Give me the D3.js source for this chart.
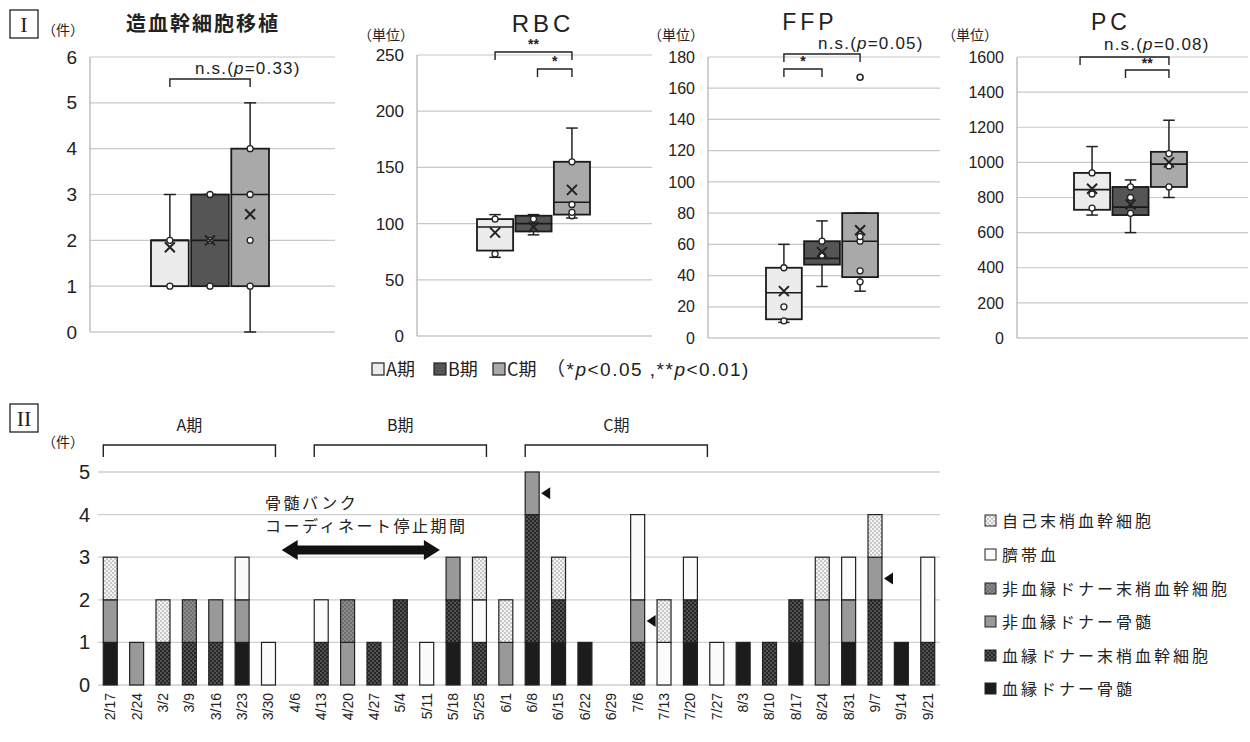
<!DOCTYPE html>
<html>
<head>
<meta charset="utf-8">
<script src="https://cdn.jsdelivr.net/npm/d3@7"></script>
<style>
  body { margin: 0; background: #fff; }
  text { font-family: "Liberation Sans", "Noto Sans CJK JP", sans-serif; fill: #222; }
  .jp { font-family: "Noto Sans CJK JP", sans-serif; }
</style>
</head>
<body>
<div id="chart"></div>
<script>
// ---- data ----
const periods = ["A期", "B期", "C期"];
const periodFill = ["#ececec", "#555555", "#a9a9a9"];

// box summaries: [min, q1, median, q3, max, mean]
const hsctBox = [[1, 1, 2, 2, 3, 1.85], [1, 1, 2, 3, 3, 2.0], [0, 1, 3, 4, 5, 2.57]];
const hsctPts = [[1, 2], [1, 2, 3], [1, 2, 3, 4]];
const rbcBox = [[70, 76, 97, 104, 108, 92], [90, 93, 100, 107, 108, 97], [105, 108, 119, 155, 185, 130]];
const rbcPts = [[73, 104], [104], [107, 110, 117, 155]];
const ffpBox = [[10, 12, 29, 45, 60, 30], [33, 47, 51, 62, 75, 55], [30, 39, 62, 80, 80, 69]];
const ffpPts = [[11, 20, 45], [62, 53], [36, 43, 62, 65]];
const ffpOutlier = [null, null, 167];
const pcBox = [[700, 730, 845, 940, 1090, 850], [600, 700, 745, 860, 900, 760], [800, 860, 990, 1060, 1240, 1000]];
const pcPts = [[740, 820, 940], [710, 800, 860], [860, 980, 1050]];

const dates = ["2/17","2/24","3/2","3/9","3/16","3/23","3/30","4/6","4/13","4/20","4/27","5/4","5/11","5/18","5/25","6/1",
  "6/8","6/15","6/22","6/29","7/6","7/13","7/20","7/27","8/3","8/10","8/17","8/24","8/31","9/7","9/14","9/21"];
const sources = ["血縁ドナー骨髄", "血縁ドナー末梢血幹細胞", "非血縁ドナー骨髄", "非血縁ドナー末梢血幹細胞", "臍帯血", "自己末梢血幹細胞"];
const relBM   = [1,0,0,0,0,1,0,0,0,0,0,0,0,1,0,0, 1,1,1,0,0,0,1,0,1,0,1,0,1,0,1,0];
const relPB   = [0,0,1,1,1,0,0,0,1,0,1,2,0,1,1,0, 3,1,0,0,1,0,1,0,0,1,1,0,0,2,0,1];
const unrelBM = [1,1,0,0,1,1,0,0,0,1,0,0,0,1,0,1, 1,0,0,0,1,0,0,0,0,0,0,2,1,1,0,0];
const unrelPB = [0,0,0,1,0,0,0,0,0,1,0,0,0,0,0,0, 0,0,0,0,0,0,0,0,0,0,0,0,0,0,0,0];
const cord    = [0,0,0,0,0,1,1,0,1,0,0,0,1,0,1,0, 0,0,0,0,2,1,1,1,0,0,0,0,1,0,0,2];
const autoPB  = [1,0,1,0,0,0,0,0,0,0,0,0,0,0,1,1, 0,1,0,0,0,1,0,0,0,0,0,1,0,1,0,0];
const markDates = ["6/8", "7/6", "9/7"];
const markValues = [4.5, 1.5, 2.5];
const phaseNames = ["A期", "B期", "C期"];
const phaseStart = ["2/17", "4/13", "6/8"];
const phaseEnd = ["3/30", "5/25", "7/20"];

// ---- svg ----
const svg = d3.select("#chart").append("svg")
  .attr("width", 1250).attr("height", 742);

const defs = svg.append("defs");
function dotPattern(id, bg, dot, size, r) {
  const p = defs.append("pattern").attr("id", id).attr("patternUnits", "userSpaceOnUse")
    .attr("width", size).attr("height", size);
  p.append("rect").attr("width", size).attr("height", size).attr("fill", bg);
  p.append("circle").attr("cx", size / 4).attr("cy", size / 4).attr("r", r).attr("fill", dot);
  p.append("circle").attr("cx", size * 3 / 4).attr("cy", size * 3 / 4).attr("r", r).attr("fill", dot);
}
dotPattern("pRelPB", "#262626", "#8a8a8a", 4, 0.8);
dotPattern("pUnrelPB", "#8c8c8c", "#4a4a4a", 4, 0.8);
dotPattern("pAuto", "#f4f4f4", "#8f8f8f", 4, 0.8);
const sourceFill = ["#1c1c1c", "url(#pRelPB)", "#999999", "url(#pUnrelPB)", "#fbfbfb", "url(#pAuto)"];

// roman numeral boxes
function romanBox(x, y, label) {
  svg.append("rect").attr("x", x).attr("y", y).attr("width", 28).attr("height", 28)
    .attr("fill", "none").attr("stroke", "#222").attr("stroke-width", 1.3);
  svg.append("text").attr("x", x + 14).attr("y", y + 22).attr("text-anchor", "middle")
    .style("font-family", "Liberation Serif, serif").style("font-size", "22px").text(label);
}
romanBox(10, 10, "I");
romanBox(10, 404, "II");

// ---- panel I : box plots ----
function boxChart(cfg, box, pts, outliers) {
  const g = svg.append("g");
  const y = d3.scaleLinear().domain([0, cfg.max]).range([cfg.bottom, cfg.top]);
  const x = d3.scaleBand().domain(periods).range([cfg.x0, cfg.x1]).paddingInner(0.06);
  const ticks = d3.range(0, cfg.max + cfg.step / 2, cfg.step);

  g.selectAll(".grid").data(ticks.slice(1)).join("line")
    .attr("x1", cfg.axisX).attr("x2", cfg.right)
    .attr("y1", d => y(d)).attr("y2", d => y(d))
    .attr("stroke", "#c8c8c8").attr("stroke-width", 1.2);
  g.append("line").attr("x1", cfg.axisX).attr("x2", cfg.right)
    .attr("y1", y(0)).attr("y2", y(0)).attr("stroke", "#b0b0b0").attr("stroke-width", 1.2);
  g.append("line").attr("x1", cfg.axisX).attr("x2", cfg.axisX)
    .attr("y1", y(0)).attr("y2", y(cfg.max)).attr("stroke", "#b0b0b0").attr("stroke-width", 1.2);

  const yAxis = g.append("g").attr("transform", `translate(${cfg.axisX - 10},0)`)
    .call(d3.axisLeft(y).tickValues(ticks).tickSize(0).tickFormat(d3.format("d")));
  yAxis.select(".domain").remove();
  yAxis.selectAll("text").style("font-size", cfg.fs + "px").style("fill", "#222")
    .style("font-family", "Liberation Sans, sans-serif");

  box.forEach((b, i) => {
    const cx = x(periods[i]) + x.bandwidth() / 2;
    const bw = x.bandwidth();
    const cap = bw * 0.32;
    // whiskers
    [[b[0], b[1]], [b[3], b[4]]].forEach(w => {
      if (w[0] === w[1]) return;
      g.append("line").attr("x1", cx).attr("x2", cx).attr("y1", y(w[0])).attr("y2", y(w[1]))
        .attr("stroke", "#222").attr("stroke-width", 1.5);
    });
    [b[0], b[4]].forEach(v => {
      g.append("line").attr("x1", cx - cap / 2).attr("x2", cx + cap / 2)
        .attr("y1", y(v)).attr("y2", y(v)).attr("stroke", "#222").attr("stroke-width", 1.5);
    });
    g.append("rect").attr("x", x(periods[i])).attr("width", bw)
      .attr("y", y(b[3])).attr("height", y(b[1]) - y(b[3]))
      .attr("fill", periodFill[i]).attr("stroke", "#1a1a1a").attr("stroke-width", 1.8);
    g.append("line").attr("x1", x(periods[i])).attr("x2", x(periods[i]) + bw)
      .attr("y1", y(b[2])).attr("y2", y(b[2])).attr("stroke", "#1a1a1a").attr("stroke-width", 1.6);
    // points
    g.selectAll(null).data(pts[i]).join("circle")
      .attr("cx", cx).attr("cy", d => y(d)).attr("r", 3)
      .attr("fill", "#fff").attr("stroke", "#222").attr("stroke-width", 1.3);
    if (outliers && outliers[i] != null) {
      g.append("circle").attr("cx", cx).attr("cy", y(outliers[i])).attr("r", 3)
        .attr("fill", "#fff").attr("stroke", "#222").attr("stroke-width", 1.5);
    }
    // mean marker
    const m = y(b[5]), s = 5;
    g.append("path").attr("d", `M${cx - s},${m - s}L${cx + s},${m + s}M${cx - s},${m + s}L${cx + s},${m - s}`)
      .attr("stroke", "#222").attr("stroke-width", 2);
  });

  // significance brackets
  cfg.sig.forEach(s => {
    const xa = x(periods[s.from]) + x.bandwidth() / 2 + (s.dxa || 0);
    const xb = x(periods[s.to]) + x.bandwidth() / 2;
    g.append("path").attr("d", `M${xa},${s.y + 8}V${s.y}H${xb}V${s.y + 8}`)
      .attr("fill", "none").attr("stroke", "#222").attr("stroke-width", 1.4);
    const t = g.append("text").attr("x", s.tx != null ? s.tx : (xa + xb) / 2).attr("y", s.ty != null ? s.ty : s.y - 3)
      .attr("text-anchor", s.anchor || "middle").style("font-size", s.fs + "px");
    if (s.p) {
      t.style("letter-spacing", "1.2px");
      t.append("tspan").text("n.s.(");
      t.append("tspan").style("font-style", "italic").text("p");
      t.append("tspan").text("=" + s.p + ")");
    } else {
      t.style("font-weight", "bold").text(s.label);
    }
  });

  // title and unit
  svg.append("text").attr("x", cfg.titleX).attr("y", cfg.titleY).attr("text-anchor", "middle")
    .attr("class", cfg.titleJp ? "jp" : null)
    .style("font-size", cfg.titleFs + "px").style("font-weight", cfg.titleJp ? "bold" : "normal")
    .style("letter-spacing", cfg.titleJp ? "2px" : "4px").text(cfg.title);
  svg.append("text").attr("x", cfg.unitX).attr("y", cfg.unitY).attr("class", "jp")
    .style("font-size", "14px").text(cfg.unit);
}

boxChart({ max: 6, step: 1, axisX: 90, right: 335, top: 57, bottom: 332, x0: 151, x1: 269, fs: 19,
  title: "造血幹細胞移植", titleJp: true, titleX: 203, titleY: 31, titleFs: 20, unit: "（件）", unitX: 42, unitY: 35,
  sig: [{ from: 0, to: 2, y: 79, p: "0.33", fs: 17, tx: 195, ty: 74, anchor: "start" }] }, hsctBox, hsctPts);

boxChart({ max: 250, step: 50, axisX: 417, right: 652, top: 55, bottom: 336, x0: 477, x1: 590, fs: 17,
  title: "RBC", titleX: 543, titleY: 32, titleFs: 24, unit: "（単位）", unitX: 358, unitY: 40,
  sig: [{ from: 0, to: 2, y: 52, label: "**", fs: 14, ty: 49 }, { from: 1, to: 2, y: 69, label: "*", fs: 14, ty: 66, dxa: 4 }] },
  rbcBox, rbcPts);

boxChart({ max: 180, step: 20, axisX: 708, right: 940, top: 57, bottom: 338, x0: 766, x1: 878, fs: 16,
  title: "FFP", titleX: 810, titleY: 30, titleFs: 23, unit: "（単位）", unitX: 648, unitY: 40,
  sig: [{ from: 0, to: 2, y: 54, p: "0.05", fs: 17, tx: 818, ty: 49, anchor: "start" }, { from: 0, to: 1, y: 69, label: "*", fs: 14, ty: 66 }] },
  ffpBox, ffpPts, ffpOutlier);

boxChart({ max: 1600, step: 200, axisX: 1017, right: 1248, top: 57, bottom: 338, x0: 1074, x1: 1187, fs: 16,
  title: "PC", titleX: 1111, titleY: 30, titleFs: 23, unit: "（単位）", unitX: 942, unitY: 40,
  sig: [{ from: 0, to: 2, y: 57, p: "0.08", fs: 17, tx: 1104, ty: 50, anchor: "start", dxa: -12 }, { from: 1, to: 2, y: 70, label: "**", fs: 14, ty: 68, dxa: -5 }] },
  pcBox, pcPts);

// panel I legend
const lg = svg.append("g").attr("transform", "translate(372,375)");
const lgX = [0, 62, 121];
periods.forEach((p, i) => {
  lg.append("rect").attr("x", lgX[i]).attr("y", -12).attr("width", 12).attr("height", 12)
    .attr("fill", periodFill[i]).attr("stroke", "#222").attr("stroke-width", 1.2);
  lg.append("text").attr("x", lgX[i] + 14).attr("y", 1).attr("class", "jp").style("font-size", "18px").text(p);
});
const lt = lg.append("text").attr("x", 174).attr("y", 1).style("font-size", "19px").style("letter-spacing", "1.5px");
lt.append("tspan").text("（*");
lt.append("tspan").style("font-style", "italic").text("p");
lt.append("tspan").text("<0.05 ,**");
lt.append("tspan").style("font-style", "italic").text("p");
lt.append("tspan").text("<0.01)");

// ---- panel II : stacked bars ----
const table = dates.map((d, i) => ({
  date: d,
  [sources[0]]: relBM[i], [sources[1]]: relPB[i], [sources[2]]: unrelBM[i],
  [sources[3]]: unrelPB[i], [sources[4]]: cord[i], [sources[5]]: autoPB[i]
}));
const stack = d3.stack().keys(sources)(table);

const bx = d3.scaleBand().domain(dates).range([98, 940]).paddingInner(0.47).paddingOuter(0.2);
const by = d3.scaleLinear().domain([0, 5]).range([685, 472]);
const g2 = svg.append("g");

g2.selectAll(".grid").data([1, 2, 3, 4, 5]).join("line")
  .attr("x1", 98).attr("x2", 940).attr("y1", d => by(d)).attr("y2", d => by(d))
  .attr("stroke", "#cfcfcf").attr("stroke-width", 1.3);
g2.append("line").attr("x1", 98).attr("x2", 940).attr("y1", by(0)).attr("y2", by(0))
  .attr("stroke", "#cfcfcf").attr("stroke-width", 1.3);

const yAx2 = g2.append("g").attr("transform", "translate(90,0)")
  .call(d3.axisLeft(by).ticks(5).tickSize(0).tickPadding(0));
yAx2.select(".domain").remove();
yAx2.selectAll("text").style("font-size", "20px").style("fill", "#222");
svg.append("text").attr("x", 42).attr("y", 447).attr("class", "jp").style("font-size", "14px").text("（件）");

const xAx2 = g2.append("g").attr("transform", `translate(0,${by(0)})`)
  .call(d3.axisBottom(bx).tickSize(0).tickPadding(6));
xAx2.select(".domain").remove();
xAx2.selectAll("text").attr("transform", "rotate(-90)").attr("text-anchor", "end")
  .attr("x", -8).attr("y", 0).attr("dy", "0.35em").style("font-size", "14px").style("fill", "#222");

stack.forEach((layer, k) => {
  g2.selectAll(null).data(layer.filter(d => d[1] > d[0])).join("rect")
    .attr("x", d => bx(d.data.date)).attr("width", bx.bandwidth())
    .attr("y", d => by(d[1])).attr("height", d => by(d[0]) - by(d[1]))
    .attr("fill", sourceFill[k]).attr("stroke", "#222").attr("stroke-width", 1.2);
});

// arrowhead markers next to some bars
markDates.forEach((d, i) => {
  const mx = bx(d) + bx.bandwidth() + 2, my = by(markValues[i]);
  g2.append("path").attr("d", `M${mx},${my}L${mx + 9},${my - 6}L${mx + 9},${my + 6}Z`).attr("fill", "#111");
});

// period brackets
phaseNames.forEach((p, i) => {
  const xa = bx(phaseStart[i]), xb = bx(phaseEnd[i]) + bx.bandwidth() + (i === 2 ? 10 : 0);
  g2.append("path").attr("d", `M${xa},457V445H${xb}V457`).attr("fill", "none")
    .attr("stroke", "#222").attr("stroke-width", 1.4);
  g2.append("text").attr("x", (xa + xb) / 2).attr("y", 431).attr("text-anchor", "middle")
    .attr("class", "jp").style("font-size", "16px").text(p);
});

// bone marrow bank pause annotation
const aL = (bx("3/30") + bx("4/6")) / 2 + bx.bandwidth() / 2;
const aR = (bx("5/11") + bx("5/18")) / 2 + bx.bandwidth() / 2;
const ay = 550;
g2.append("path")
  .attr("d", `M${aL},${ay}L${aL + 16},${ay - 10}L${aL + 16},${ay - 4.5}L${aR - 16},${ay - 4.5}L${aR - 16},${ay - 10}L${aR},${ay}L${aR - 16},${ay + 10}L${aR - 16},${ay + 4.5}L${aL + 16},${ay + 4.5}L${aL + 16},${ay + 10}Z`)
  .attr("fill", "#111");
g2.append("text").attr("x", 265).attr("y", 509).attr("class", "jp").style("font-size", "16px")
  .style("letter-spacing", "2.5px").text("骨髄バンク");
g2.append("text").attr("x", 265).attr("y", 532).attr("class", "jp").style("font-size", "16px")
  .style("letter-spacing", "2.5px").text("コーディネート停止期間");

// panel II legend (top to bottom reversed order)
const leg2 = svg.append("g").attr("transform", "translate(985,0)");
const legY = [521, 555, 589, 622, 656, 689];
sources.slice().reverse().forEach((s, i) => {
  const k = sources.length - 1 - i;
  leg2.append("rect").attr("x", 0).attr("y", legY[i] - 6).attr("width", 11).attr("height", 11)
    .attr("fill", sourceFill[k]).attr("stroke", "#222").attr("stroke-width", 1);
  leg2.append("text").attr("x", 17).attr("y", legY[i] + 6).attr("class", "jp")
    .style("font-size", "16px").style("letter-spacing", "3px").text(s);
});
</script>
</body>
</html>
